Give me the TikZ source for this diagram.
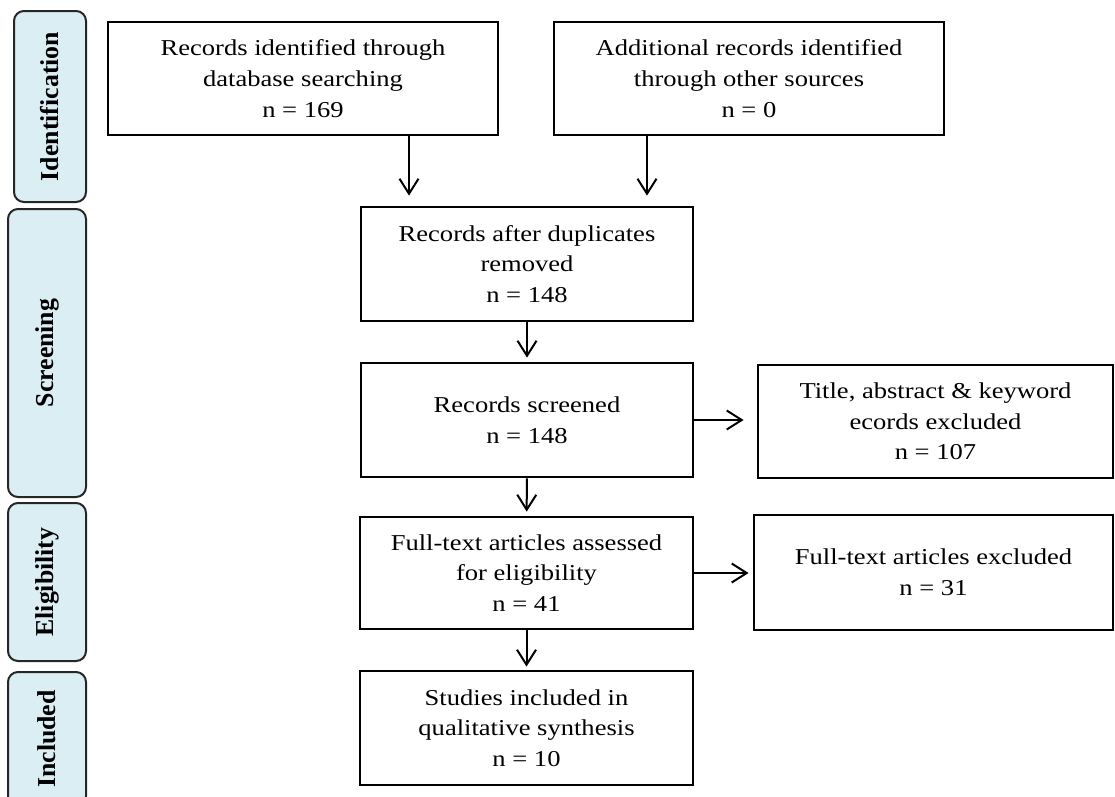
\documentclass[tikz,border=0pt]{standalone}
\usepackage{fontspec}
\setmainfont{Liberation Serif}[FakeStretch=1.17]
\newfontfamily\sidefont{Liberation Serif}
\usetikzlibrary{arrows.meta}
\definecolor{sidefill}{HTML}{DBEEF4}
\begin{document}
\begin{tikzpicture}[x=1pt,y=-1pt,
  box/.style={draw=black, line width=2.8pt, inner sep=0pt, align=center,
    font=\fontsize{22.7}{30.7}\selectfont},
  side/.style={draw=black!85, fill=sidefill, line width=2pt, rounded corners=10pt,
    rotate=90, inner sep=0pt, minimum height=78pt,
    font=\sidefont\bfseries\fontsize{25.8}{30}\selectfont},
  arr/.style={line width=2pt, -{Straight Barb[length=15pt,width=19pt,line width=2pt]}}]
\useasboundingbox (0,0) rectangle (1115,796);

% phase labels
\node[side, minimum width=191pt, minimum height=72pt] (s1) at (50,106.5) {Identification};
\node[side, minimum width=288pt] (s2) at (47,353) {Screening};
\node[side, minimum width=158pt] (s3) at (47,582) {Eligibility};
\node[side, minimum width=134pt] (s4) at (47,739) {Included};

% boxes
\node[box, minimum width=390pt, minimum height=113pt] (b1) at (303,78.5)
  {Records identified through\\database searching\\n = 169};
\node[box, minimum width=390pt, minimum height=113pt] (b2) at (749,78.5)
  {Additional records identified\\through other sources\\n = 0};
\node[box, minimum width=332pt, minimum height=114pt] (b3) at (527,264)
  {Records after duplicates\\removed\\n = 148};
\node[box, minimum width=332pt, minimum height=114pt] (b4) at (527,420)
  {Records screened\\n = 148};
\node[box, minimum width=355pt, minimum height=113pt] (b5) at (935.5,421.5)
  {Title, abstract \& keyword\\ecords excluded\\n = 107};
\node[box, minimum width=333pt, minimum height=112pt] (b6) at (526.5,573)
  {Full-text articles assessed\\for eligibility\\n = 41};
\node[box, minimum width=359pt, minimum height=115pt] (b7) at (933.5,572.5)
  {Full-text articles excluded\\n = 31};
\node[box, minimum width=333pt, minimum height=114pt] (b8) at (526.5,728)
  {Studies included in\\qualitative synthesis\\n = 10};

% arrow columns
\coordinate (c1) at (409,0);
\coordinate (c2) at (647,0);

\draw[arr, shorten >=10pt] (b1.south -| c1) -- (b3.north -| c1);
\draw[arr, shorten >=10pt] (b2.south -| c2) -- (b3.north -| c2);
\draw[arr, shorten >=4pt] (b3) -- (b4);
\draw[arr, shorten >=4pt] (b4) -- (b6);
\draw[arr, shorten >=3pt] (b6) -- (b8);
\draw[arr, shorten >=13pt] (b4.east) -- (b4.east -| b5.west);
\draw[arr, shorten >=4pt] (b6.east) -- (b6.east -| b7.west);
\end{tikzpicture}
\end{document}
